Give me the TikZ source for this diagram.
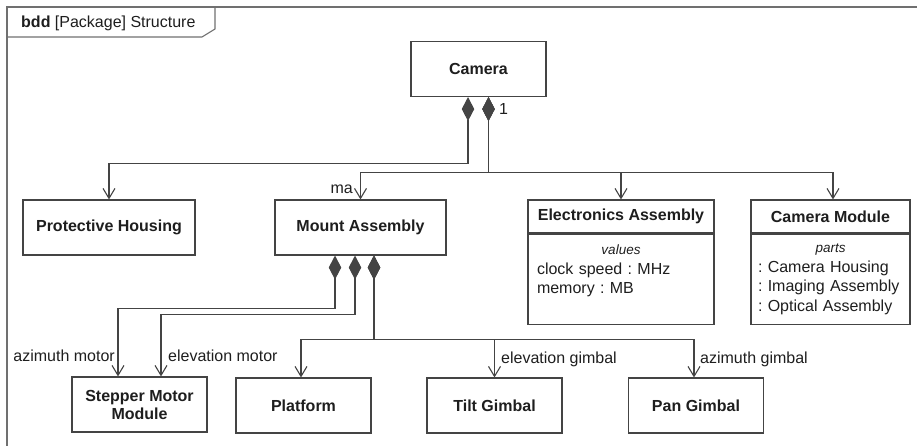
\documentclass[tikz,border=0pt]{standalone}
\usepackage{fontspec}
\setmainfont{Liberation Sans}
\usetikzlibrary{positioning,arrows.meta}

\definecolor{linegray}{HTML}{444444}
\definecolor{framegray}{HTML}{707070}
\definecolor{inkblack}{HTML}{1E1E1E}

\newcommand{\diagfont}{\fontsize{16}{18}\selectfont\frenchspacing}

\tikzset{
	block/.style={draw=linegray, line width=1.1pt, fill=white, minimum width=135pt,
		minimum height=55pt, inner sep=0pt, align=center, font=\diagfont\bfseries, text=inkblack},
	compart/.style={draw=linegray, line width=1.1pt, inner xsep=9pt, inner ysep=0pt,
		align=left, font=\fontsize{16}{19.5}\selectfont\frenchspacing, text=inkblack},
	comp/.style={draw=linegray, line width=1.1pt,
		{Diamond[length=24pt,width=12.5pt]}-{Straight Barb[length=10pt,width=12pt]}},
	lbl/.style={inner sep=0pt, font=\diagfont, text=inkblack}
}

\begin{document}
\begin{tikzpicture}[x=1pt, y=-1pt]
	
	\useasboundingbox (0,0) rectangle (917,445);
	
	% Draw frame
	\begin{scope}
		\clip (0,0) rectangle (917,445);
		\draw[framegray, line width=1.4pt] (7,470) -- (7,7) -- (940,7);
		\draw[framegray, line width=1.1pt] (7,37) -- (202,37) -- (215,29) -- (215,7);
	\end{scope}
	\node[lbl, anchor=west] (title) at (21,23) {\textbf{bdd} [Package] Structure};
	
	% Draw top blocks
	\node[block] (cam) at (478.5,69) {Camera};
	\node[block, minimum width=172pt] (housing) at (109,227.5) {Protective Housing};
	\node[block, minimum width=171pt] (mount) at (360.5,227.5) {Mount Assembly};
	
	% Draw blocks with compartments
	\node[block, minimum width=186pt, minimum height=33pt] (elec) at (621,216.5) {Electronics Assembly};
	\node[compart, below=0pt of elec, minimum width=186pt, minimum height=90pt, text width=168pt] (elecval)
		{{\centering\fontsize{13.5}{16}\selectfont\itshape values\par}
		clock speed : MHz\\memory : MB\\\mbox{}};
	\node[block, minimum width=159pt, minimum height=33pt] (cammod) at (830.5,216.5) {Camera Module};
	\node[compart, below=0pt of cammod, minimum width=159pt, minimum height=90pt, text width=145pt, inner xsep=7pt] (cammodparts)
		{{\centering\fontsize{13.5}{16}\selectfont\itshape parts\par}
		: Camera Housing\\: Imaging Assembly\\: Optical Assembly};
	
	% Draw bottom blocks
	\node[block] (stepper) at (139.5,404.5) {Stepper Motor\\Module};
	\node[block] (platform) at (303.5,405.5) {Platform};
	\node[block] (tilt) at (494.5,405.5) {Tilt Gimbal};
	\node[block] (pan) at (696,405.5) {Pan Gimbal};
	
	% Draw composition of camera
	\draw[comp] ([xshift=-10.5pt]cam.south) -- ++(0,66) -| (housing.north);
	\draw[comp] ([xshift=10pt]cam.south) -- ++(0,75) -| (mount.north);
	\draw[comp] ([xshift=10pt]cam.south) -- ++(0,75) -| (elec.north);
	\draw[comp] ([xshift=10pt]cam.south) -- ++(0,75) -| ([xshift=2.5pt]cammod.north);
	\node[lbl, anchor=west] (mult) at (499,109) {1};
	\node[lbl, anchor=east] (ma) at (353,189) {ma};
	
	% Draw composition of mount assembly
	\draw[comp] ([xshift=-25.5pt]mount.south) -- ++(0,53) -| ([xshift=-21.5pt]stepper.north);
	\draw[comp] ([xshift=-5.5pt]mount.south) -- ++(0,59) -| ([xshift=21.5pt]stepper.north);
	\draw[comp] ([xshift=13.5pt]mount.south) -- ++(0,84) -| ([xshift=-2.5pt]platform.north);
	\draw[comp] ([xshift=13.5pt]mount.south) -- ++(0,84) -| (tilt.north);
	\draw[comp] ([xshift=13.5pt]mount.south) -- ++(0,84) -| ([xshift=-2pt]pan.north);
	\node[lbl, anchor=east] (azmotor) at (115,356) {azimuth motor};
	\node[lbl, anchor=west] (elmotor) at (168,356) {elevation motor};
	\node[lbl, anchor=west] (elgimbal) at (501,359) {elevation gimbal};
	\node[lbl, anchor=west] (azgimbal) at (700,359) {azimuth gimbal};
	
\end{tikzpicture}
\end{document}
